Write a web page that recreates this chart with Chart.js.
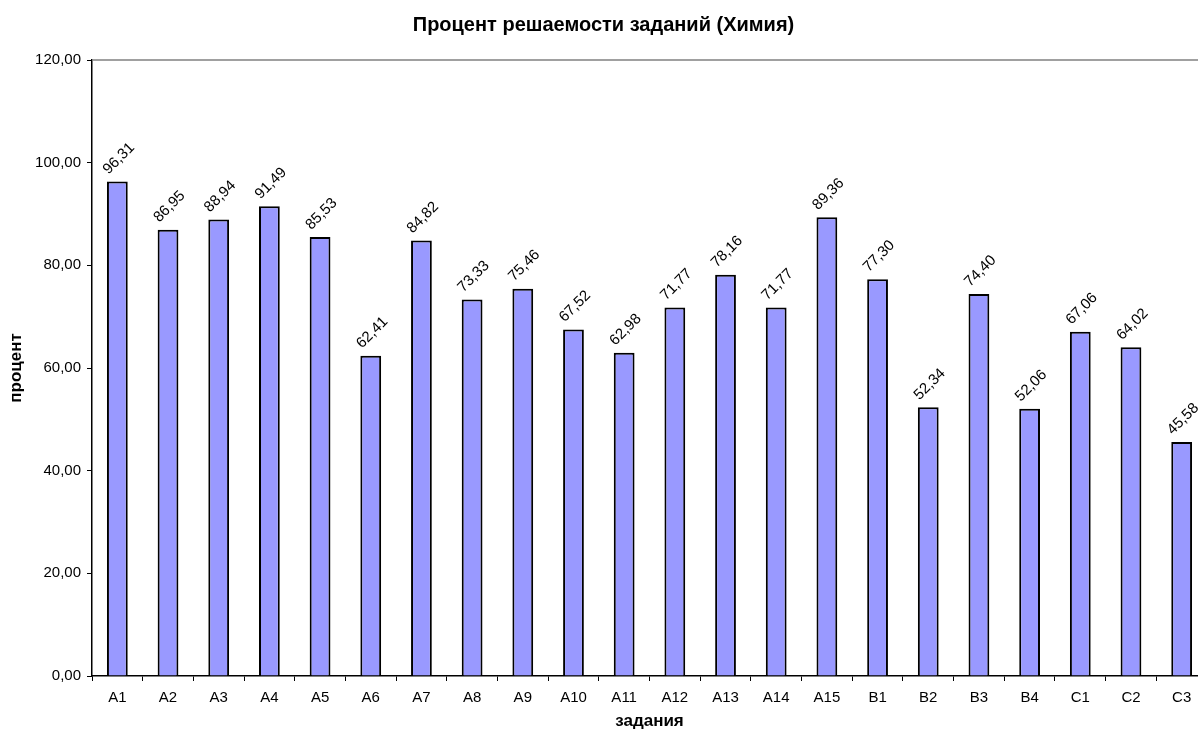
<!DOCTYPE html>
<html>
<head>
<meta charset="utf-8">
<script src="https://cdn.jsdelivr.net/npm/chart.js@4/dist/chart.umd.min.js"></script>
<style>
html,body{margin:0;padding:0;background:#fff;overflow:hidden;}
#wrap{position:absolute;left:0;top:0;width:1216px;height:733px;}
</style>
</head>
<body>
<div id="wrap"><canvas id="c" width="1216" height="733"></canvas></div>
<script>
const categories = ['А1','А2','А3','А4','А5','А6','А7','А8','А9','А10','А11','А12','А13','А14','А15','В1','В2','В3','В4','С1','С2','С3'];
const values = [96.31,86.95,88.94,91.49,85.53,62.41,84.82,73.33,75.46,67.52,62.98,71.77,78.16,71.77,89.36,77.30,52.34,74.40,52.06,67.06,64.02,45.58];
const yTicks = [0,20,40,60,80,100,120];
const chartTitle = 'Процент решаемости заданий (Химия)';
const xTitle = 'задания';
const yTitle = 'процент';

const FONT = "'Liberation Sans', Arial, sans-serif";
const fmt = v => v.toFixed(2).replace('.', ',');

const labelPlugin = {
  id: 'valueLabels',
  afterDatasetsDraw(chart) {
    const ctx = chart.ctx;
    const meta = chart.getDatasetMeta(0);
    ctx.save();
    ctx.font = '15px ' + FONT;
    ctx.fillStyle = '#000';
    ctx.textAlign = 'center';
    ctx.textBaseline = 'middle';
    meta.data.forEach((bar, i) => {
      ctx.save();
      ctx.translate(bar.x + 1.5, bar.y - 23);
      ctx.rotate(-Math.PI / 4);
      ctx.fillText(fmt(values[i]), 0, 0);
      ctx.restore();
    });
    ctx.restore();
  }
};

const borderPlugin = {
  id: 'topBorder',
  afterDraw(chart) {
    const a = chart.chartArea, ctx = chart.ctx;
    ctx.save();
    ctx.strokeStyle = '#808080';
    ctx.lineWidth = 1.5;
    ctx.beginPath();
    ctx.moveTo(a.left, a.top);
    ctx.lineTo(a.right, a.top);
    ctx.stroke();
    ctx.restore();
  }
};

new Chart(document.getElementById('c'), {
  type: 'bar',
  data: {
    labels: categories,
    datasets: [{
      data: values,
      backgroundColor: '#9999FF',
      borderColor: '#000000',
      borderWidth: 2,
      categoryPercentage: 1,
      barPercentage: 0.41
    }]
  },
  options: {
    responsive: false,
    animation: false,
    devicePixelRatio: 1,
    layout: { padding: { left: 0, right: 9, top: 0, bottom: 0 } },
    plugins: {
      legend: { display: false },
      tooltip: { enabled: false },
      title: {
        display: true,
        text: chartTitle,
        color: '#000',
        font: { family: FONT, size: 20, weight: 'bold' },
        padding: { top: 13, bottom: 23 }
      }
    },
    scales: {
      x: {
        afterFit(s) { s.height = 57; },
        grid: { display: true, drawOnChartArea: false, drawTicks: true, tickLength: 5, color: '#000', lineWidth: 1 },
        border: { display: true, color: '#000', width: 1.5 },
        ticks: { color: '#000', font: { family: FONT, size: 15 }, padding: 8, maxRotation: 0, autoSkip: false },
        title: { display: true, text: xTitle, color: '#000', font: { family: FONT, size: 17, weight: 'bold' }, padding: { top: 2, bottom: 1 } }
      },
      y: {
        min: 0, max: 120,
        afterFit(s) { s.width = 92; },
        afterBuildTicks(s) { s.ticks = yTicks.map(v => ({ value: v })); },
        grid: { display: true, drawOnChartArea: false, drawTicks: true, tickLength: 5, color: '#000', lineWidth: 1 },
        border: { display: true, color: '#000', width: 1.5 },
        ticks: { color: '#000', font: { family: FONT, size: 15 }, padding: 6, callback: v => fmt(v) },
        title: { display: true, text: yTitle, color: '#000', font: { family: FONT, size: 17, weight: 'bold' }, padding: { top: 6, bottom: 4 } }
      }
    }
  },
  plugins: [labelPlugin, borderPlugin]
});
</script>
</body>
</html>
